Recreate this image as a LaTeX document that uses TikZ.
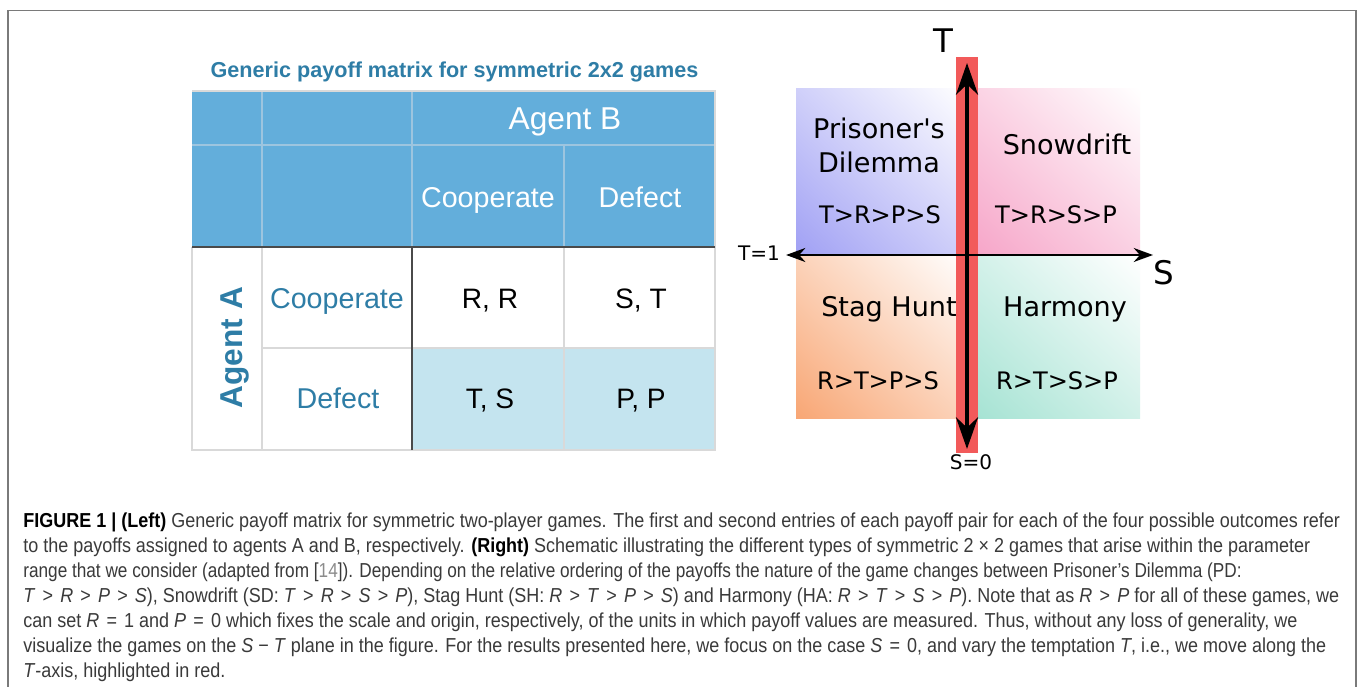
\documentclass[tikz,border=0pt]{standalone}
\usepackage{fontspec}
\setmainfont{Liberation Sans}
\newfontfamily\capfont{Liberation Sans}[FakeStretch=0.89]
\newfontfamily\djv{DejaVu Sans}[Ligatures=TeXOff]
\usetikzlibrary{arrows.meta, positioning, shadings}

\definecolor{hdrblue}{HTML}{63AEDB}
\definecolor{hdrline}{HTML}{9DC5DF}
\definecolor{cellblue}{HTML}{C4E4EF}
\definecolor{tealtxt}{HTML}{2E7DA6}
\definecolor{gridgrey}{HTML}{D9D9D9}
\definecolor{darkline}{HTML}{4A4A4A}
\definecolor{framegrey}{HTML}{7A7A7A}
\definecolor{redbar}{HTML}{F25A5A}
\definecolor{pdcol}{HTML}{A0A0F4}
\definecolor{sdcol}{HTML}{F6A3C7}
\definecolor{shcol}{HTML}{F8A674}
\definecolor{hacol}{HTML}{A3E2D2}
\definecolor{captxt}{HTML}{3A3A3A}
\definecolor{refgrey}{HTML}{8C8C8C}

\newcommand{\mv}[1]{\textit{#1}}
\newcommand{\rel}[1]{\hspace{0.355em}#1\hspace{0.355em}}

\begin{document}
\begin{tikzpicture}[x=0.2mm, y=-0.2mm,
   hdr/.style={text=white, font=\fontsize{16.3}{19}\selectfont, anchor=base},
   lbl/.style={text=tealtxt, font=\fontsize{16.3}{19}\selectfont, anchor=base},
   pay/.style={text=black, font=\fontsize{16}{19}\selectfont, anchor=base},
   game/.style={font=\djv\fontsize{15.4}{19.9}\selectfont, align=center, anchor=base},
   order/.style={font=\djv\fontsize{13.7}{16}\selectfont, anchor=base},
   axlbl/.style={font=\djv\fontsize{18.5}{20}\selectfont, anchor=base},
   endlbl/.style={font=\djv\fontsize{11.4}{13}\selectfont, anchor=base}]
  \useasboundingbox[fill=white] (0,0) rectangle (1358,687);
  \draw[framegrey, line width=1.1pt] (8,687) -- (8,10.5) -- (1356,10.5) -- (1356,687);

  % payoff matrix
  \node[text=tealtxt, font=\bfseries\fontsize{12.3}{15}\selectfont, anchor=base]
     (title) at (454.5,77.7) {Generic payoff matrix for symmetric 2x2 games};
  \fill[hdrblue] (192,91) rectangle (715,247);
  \fill[cellblue] (412,348) rectangle (715,450);
  \draw[hdrline, line width=0.6pt] (192,145) -- (715,145)
     (262,91) -- (262,247) (412,91) -- (412,247) (564,145) -- (564,247);
  \draw[gridgrey, line width=0.6pt] (192,91) -- (715,91) -- (715,450) -- (192,450) -- (192,247)
     (262,247) -- (262,450) (564,247) -- (564,450) (262,348) -- (715,348);
  \draw[darkline, line width=0.9pt] (192,247) -- (715,247) (412,247) -- (412,450);
  \node[hdr, font=\fontsize{18}{21}\selectfont] (agentb) at (565,130) {Agent B};
  \node[hdr] (colc) at (488,208) {Cooperate};
  \node[hdr] (cold) at (640,208) {Defect};
  \node[text=tealtxt, font=\bfseries\fontsize{18}{21}\selectfont, anchor=base, rotate=90]
     (agenta) at (242,347.6) {Agent A};
  \node[lbl] (rowc) at (337,309) {Cooperate};
  \node[lbl] (rowd) at (338,409) {Defect};
  \foreach \n/\x/\y/\t in {rr/490/309/{R, R}, st/641/309/{S, T},
                           ts/490/409/{T, S}, pp/641/409/{P, P}}
     \node[pay] (pay-\n) at (\x,\y) {\t};

  % S-T plane
  \foreach \c/\xa/\ya/\xb/\yb in {pdcol/796/89/967/255, sdcol/967/89/1140/255,
                                  shcol/796/255/967/419, hacol/967/255/1140/419}
     \shade[lower left=\c, upper right=white, upper left=\c!50!white, lower right=\c!50!white]
        (\xa,\ya) rectangle (\xb,\yb);
  \fill[redbar] (956,57) rectangle (978,453);
  \node[endlbl] (tone) at (759,261) {T=1};
  \node[endlbl] (szero) at (971,470) {S=0};
  \node[axlbl] (taxis) at (943,53) {T};
  \node[axlbl] (saxis) at (1164,285) {S};
  \coordinate (sright) at (1153,255);
  \coordinate (ttop) at (967,63);
  \coordinate (tbot) at (967,449);
  \draw[line width=0.85pt, {Stealth[length=11pt, width=8pt]}-{Stealth[length=11pt, width=8pt]}]
     (tone.east |- sright) -- (sright);
  \draw[line width=2.5pt, {Stealth[length=18pt, width=12.5pt]}-{Stealth[length=18pt, width=12.5pt]}]
     (ttop) -- (tbot);
  \node[game] (pd) at (879,173) {Prisoner's\\Dilemma};
  \node[game] (sd) at (1067,155) {Snowdrift};
  \node[game] (sh) at (889,317) {Stag Hunt};
  \node[game] (ha) at (1065,317) {Harmony};
  \node[order] (pdord) at (880,224) {T>R>P>S};
  \node[order] (sdord) at (1056,224) {T>R>S>P};
  \node[order] (shord) at (878,390) {R>T>P>S};
  \node[order] (haord) at (1057,390) {R>T>S>P};

  % caption
  \node[anchor=north west, inner sep=0pt, align=left, text=captxt,
        font=\capfont\fontsize{11.5}{14.23}\selectfont] (caption) at (23,512.5) {%
  {\color{black}\textbf{FIGURE 1 | (Left)}} Generic payoff matrix for symmetric two-player games. The first and second entries of each payoff pair for each of the four possible outcomes refer\\
  to the payoffs assigned to agents A and B, respectively. {\color{black}\textbf{(Right)}} Schematic illustrating the different types of symmetric 2 × 2 games that arise within the parameter\\
  \scalebox{0.956}[1]{range that we consider (adapted from [{\color{refgrey}14}]). Depending on the relative ordering of the payoffs the nature of the game changes between Prisoner’s Dilemma (PD:}\\
  \mv{T}\rel{>}\mv{R}\rel{>}\mv{P}\rel{>}\mv{S}), Snowdrift (SD: \mv{T}\rel{>}\mv{R}\rel{>}\mv{S}\rel{>}\mv{P}), Stag Hunt (SH: \mv{R}\rel{>}\mv{T}\rel{>}\mv{P}\rel{>}\mv{S}) and Harmony (HA: \mv{R}\rel{>}\mv{T}\rel{>}\mv{S}\rel{>}\mv{P}). Note that as \mv{R}\rel{>}\mv{P} for all of these games, we\\
  can set \mv{R}\rel{=}1 and \mv{P}\rel{=}0 which fixes the scale and origin, respectively, of the units in which payoff values are measured. Thus, without any loss of generality, we\\
  visualize the games on the \mv{S} − \mv{T} plane in the figure. For the results presented here, we focus on the case \mv{S}\rel{=}0, and vary the temptation \mv{T}, i.e., we move along the\\
  \mv{T}-axis, highlighted in red.};
\end{tikzpicture}
\end{document}
